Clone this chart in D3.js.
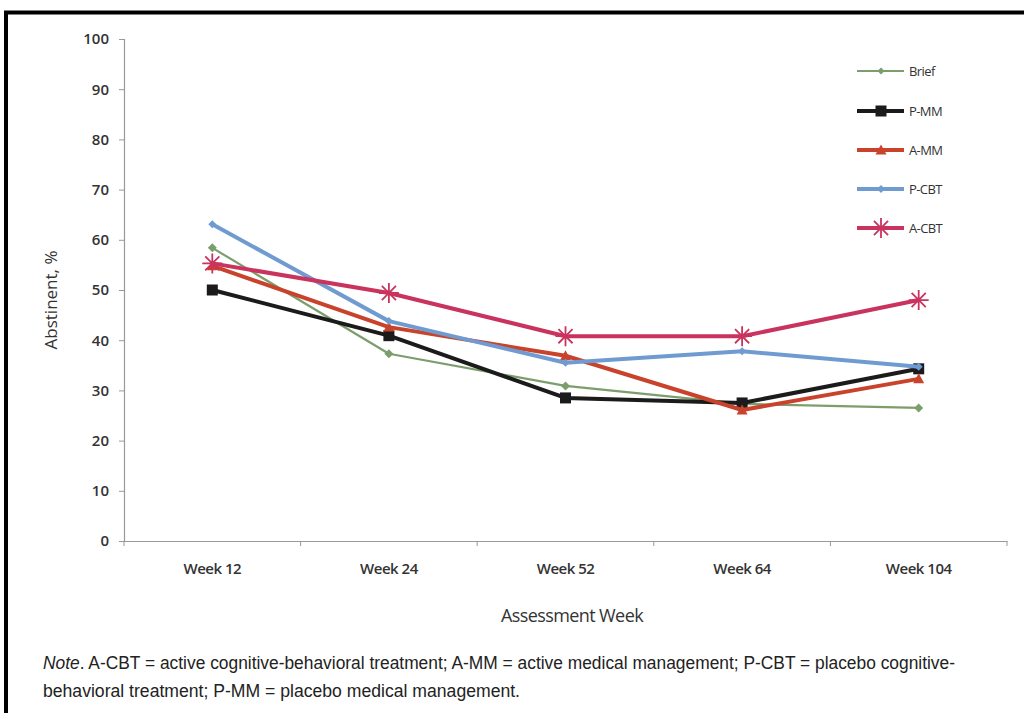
<!DOCTYPE html>
<html>
<head>
<meta charset="utf-8">
<script src="https://cdn.jsdelivr.net/npm/d3@7"></script>
<style>
  body { margin: 0; background: #fff; }
  svg { display: block; }
</style>
</head>
<body>
<script>
// chart data
const weeks = ["Week 12", "Week 24", "Week 52", "Week 64", "Week 104"];
const seriesNames = ["Brief", "P-MM", "A-MM", "P-CBT", "A-CBT"];
const brief = [58.4, 37.3, 30.9, 27.3, 26.5];
const pmm = [50.0, 40.9, 28.5, 27.5, 34.3];
const amm = [54.8, 42.6, 36.9, 26.1, 32.3];
const pcbt = [63.1, 43.8, 35.5, 37.8, 34.7];
const acbt = [55.3, 49.4, 40.8, 40.8, 48.0];
const yTicks = [0, 10, 20, 30, 40, 50, 60, 70, 80, 90, 100];

const W = 1024, H = 713;
const svg = d3.select("body").append("svg").attr("width", W).attr("height", H);

// frame lines (top and left only)
svg.append("line").attr("x1", 4).attr("x2", W).attr("y1", 12.5).attr("y2", 12.5)
  .attr("stroke", "#000").attr("stroke-width", 4);
svg.append("line").attr("x1", 6).attr("x2", 6).attr("y1", 11).attr("y2", H)
  .attr("stroke", "#000").attr("stroke-width", 4);

const x = d3.scaleBand().domain(weeks).range([124, 1007]);
const y = d3.scaleLinear().domain([0, 100]).range([541, 39]);

const series = [
  { name: seriesNames[0], vals: brief, color: "#7c9e6c", w: 2.2, marker: "diamond" },
  { name: seriesNames[1], vals: pmm, color: "#1b1b1b", w: 4, marker: "square" },
  { name: seriesNames[2], vals: amm, color: "#c9432c", w: 4, marker: "triangle" },
  { name: seriesNames[3], vals: pcbt, color: "#6f9bd1", w: 4, marker: "diamond" },
  { name: seriesNames[4], vals: acbt, color: "#c9335e", w: 4, marker: "star" }
];

const tickFont = "'Open Sans', 'DejaVu Sans', sans-serif";

// y axis
const yAxis = svg.append("g")
  .attr("transform", "translate(124,0)")
  .call(d3.axisLeft(y).tickValues(yTicks).tickSize(5).tickPadding(10));
yAxis.select(".domain").attr("stroke", "#999").attr("stroke-width", 1.2);
yAxis.selectAll(".tick line").attr("stroke", "#999");
yAxis.selectAll(".tick text").attr("font-family", tickFont).attr("font-size", 15)
  .attr("font-weight", 600).attr("fill", "#333");

// x axis
const xAxis = svg.append("g")
  .attr("transform", "translate(0,541)")
  .call(d3.axisBottom(x).tickSize(0).tickPadding(22));
xAxis.select(".domain").attr("stroke", "#999").attr("stroke-width", 1.2);
xAxis.selectAll(".tick text").attr("font-family", tickFont).attr("font-size", 15)
  .attr("font-weight", 600).attr("letter-spacing", -0.5).attr("fill", "#333");
// boundary ticks between categories
svg.append("g").selectAll("line")
  .data(weeks.concat(["end"]))
  .enter().append("line")
  .attr("x1", (d, i) => i < weeks.length ? x(d) : x(weeks[weeks.length - 1]) + x.bandwidth())
  .attr("x2", (d, i) => i < weeks.length ? x(d) : x(weeks[weeks.length - 1]) + x.bandwidth())
  .attr("y1", 541).attr("y2", 546)
  .attr("stroke", "#999");

// axis titles
svg.append("text")
  .attr("transform", "translate(57,300) rotate(-90)")
  .attr("text-anchor", "middle")
  .attr("font-family", tickFont).attr("font-size", 17).attr("fill", "#333")
  .text("Abstinent, %");
svg.append("text")
  .attr("x", 572).attr("y", 622)
  .attr("text-anchor", "middle")
  .attr("font-family", tickFont).attr("font-size", 18).attr("fill", "#333")
  .attr("letter-spacing", -0.6)
  .text("Assessment Week");

function drawMarker(g, type, color, cx, cy, s) {
  if (type === "square") {
    g.append("rect").attr("x", cx - s).attr("y", cy - s).attr("width", 2 * s).attr("height", 2 * s)
      .attr("fill", color);
  } else if (type === "diamond") {
    g.append("path").attr("d", `M${cx},${cy - s}L${cx + s},${cy}L${cx},${cy + s}L${cx - s},${cy}Z`)
      .attr("fill", color);
  } else if (type === "triangle") {
    g.append("path").attr("d", `M${cx},${cy - s}L${cx + s},${cy + s * 0.8}L${cx - s},${cy + s * 0.8}Z`)
      .attr("fill", color);
  } else if (type === "star") {
    let d = "";
    for (let k = 0; k < 4; k++) {
      const a = k * Math.PI / 4;
      const dx = Math.cos(a) * s, dy = Math.sin(a) * s;
      d += `M${cx - dx},${cy - dy}L${cx + dx},${cy + dy}`;
    }
    g.append("path").attr("d", d).attr("stroke", color).attr("stroke-width", 1.8).attr("fill", "none");
  }
}

const line = d3.line().x((d, i) => x(weeks[i]) + x.bandwidth() / 2).y(d => y(d));
const markerSize = { diamond: 4, square: 5.5, triangle: 5.5, star: 10 };

series.forEach(s => {
  const g = svg.append("g");
  g.append("path").datum(s.vals).attr("d", line)
    .attr("fill", "none").attr("stroke", s.color).attr("stroke-width", s.w)
    .attr("stroke-linejoin", "round");
  s.vals.forEach((v, i) => {
    const sz = s.name === "Brief" ? 4.5 : markerSize[s.marker];
    drawMarker(g, s.marker, s.color, x(weeks[i]) + x.bandwidth() / 2, y(v), sz);
  });
});

// legend
const legendY = [71, 111, 150, 189, 228];
series.forEach((s, i) => {
  const g = svg.append("g");
  const ly = legendY[i];
  g.append("line").attr("x1", 857).attr("x2", 904).attr("y1", ly).attr("y2", ly)
    .attr("stroke", s.color).attr("stroke-width", s.w);
  drawMarker(g, s.marker, s.color, 881, ly, s.name === "Brief" ? 3.5 : markerSize[s.marker]);
  g.append("text").attr("x", 909).attr("y", ly + 5)
    .attr("font-family", tickFont).attr("font-size", 13).attr("fill", "#333")
    .attr("letter-spacing", -0.6)
    .text(s.name);
});

// note
const noteFont = "'Liberation Sans Narrow', 'Liberation Sans', sans-serif";
const note1 = svg.append("text").attr("x", 43).attr("y", 669)
  .attr("font-family", noteFont).attr("font-size", 17.5).attr("fill", "#222")
  .attr("textLength", 912).attr("lengthAdjust", "spacingAndGlyphs");
note1.append("tspan").attr("font-style", "italic").text("Note");
note1.append("tspan").text(". A-CBT = active cognitive-behavioral treatment; A-MM = active medical management; P-CBT = placebo cognitive-");
svg.append("text").attr("x", 43).attr("y", 697)
  .attr("font-family", noteFont).attr("font-size", 17.5).attr("fill", "#222")
  .attr("textLength", 477).attr("lengthAdjust", "spacingAndGlyphs")
  .text("behavioral treatment; P-MM = placebo medical management.");
</script>
</body>
</html>
